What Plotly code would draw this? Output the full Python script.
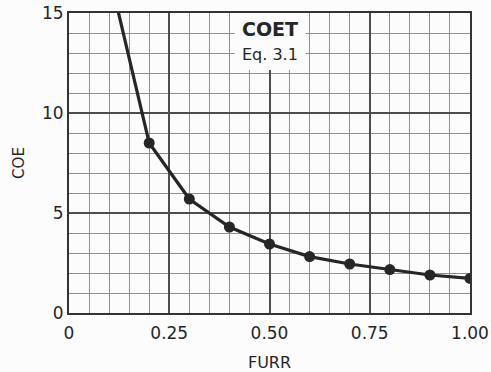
import plotly.graph_objects as go

# Cost of energy (COE) versus FURR, Eq. 3.1
furr = [0.1, 0.2, 0.3, 0.4, 0.5, 0.6, 0.7, 0.8, 0.9, 1.0]
coe = [17.0, 8.5, 5.7, 4.3, 3.45, 2.82, 2.45, 2.17, 1.9, 1.73]

x_ticks = [0, 0.25, 0.5, 0.75, 1.0]
x_tick_text = ["0", "0.25", "0.50", "0.75", "1.00"]
y_ticks = [0, 5, 10, 15]
y_tick_text = ["0", "5", "10", "15"]

title_lines = ["COET", "Eq. 3.1"]

ink = "#262626"
font_family = "DejaVu Sans, Liberation Sans, sans-serif"

# only points that fall inside the plotted range get a marker
mx = [x for x, y in zip(furr, coe) if y <= 15]
my = [y for y in coe if y <= 15]

fig = go.Figure()
fig.add_trace(go.Scatter(
    x=furr, y=coe, mode="lines",
    line=dict(color=ink, width=3.2),
    hoverinfo="skip", showlegend=False,
))
fig.add_trace(go.Scatter(
    x=mx, y=my, mode="markers",
    marker=dict(color=ink, size=11),
    showlegend=False,
))

# white label box that blanks out the grid behind the title
fig.add_shape(type="rect", xref="x", yref="y",
              x0=0.413, x1=0.59, y0=12.15, y1=15,
              fillcolor="#fcfcfc", line=dict(width=0), layer="between")
fig.add_annotation(x=0.5, y=14.2, xref="x", yref="y", text="<b>" + title_lines[0] + "</b>",
                   showarrow=False, font=dict(size=19, color=ink, family=font_family))
fig.add_annotation(x=0.5, y=12.95, xref="x", yref="y", text=title_lines[1],
                   showarrow=False, font=dict(size=16, color=ink, family=font_family))

axis_common = dict(
    showline=True, mirror=True, linecolor="#333333", linewidth=2,
    showgrid=True, gridcolor="#4d4d4d", gridwidth=1.6,
    zeroline=False, ticks="", ticklen=0, automargin=False,
    tickfont=dict(size=17, color=ink, family=font_family),
)

fig.update_xaxes(
    range=[0, 1.0], tickvals=x_ticks, ticktext=x_tick_text,
    ticklabelstandoff=4,
    minor=dict(dtick=0.05, tick0=0, showgrid=True, gridcolor="#8f8f8f", gridwidth=1),
    title=dict(text="FURR", font=dict(size=16, color=ink, family=font_family), standoff=18),
    **axis_common,
)
fig.update_yaxes(
    range=[0, 15], tickvals=y_ticks, ticktext=y_tick_text,
    minor=dict(dtick=1, tick0=0, showgrid=True, gridcolor="#8f8f8f", gridwidth=1),
    title=dict(text="COE", font=dict(size=15, color=ink, family=font_family), standoff=14),
    **axis_common,
)

fig.update_layout(
    width=491, height=372,
    margin=dict(l=69, r=21, t=13, b=59),
    paper_bgcolor="#fcfcfc", plot_bgcolor="#fcfcfc",
    showlegend=False,
)

fig.write_html("out.html")
